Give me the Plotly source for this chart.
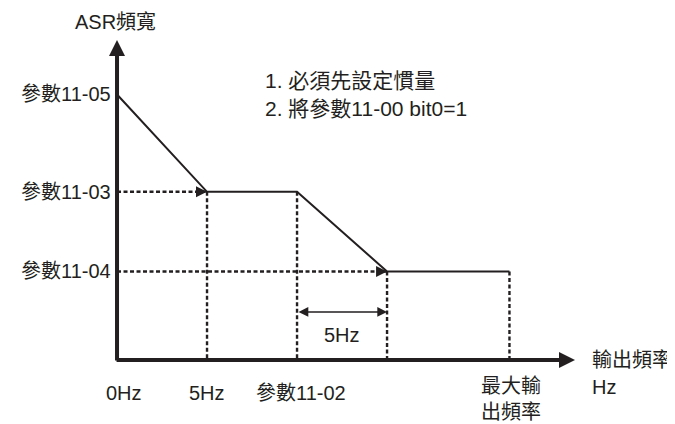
import plotly.graph_objects as go

# ASR bandwidth vs output frequency (schematic)
freq_vals = [0, 5, 10, 21.8]
freq_labels = ["0Hz", "5Hz", "參數11-02", "最大輸<br>出頻率"]
asr_vals = [3.0, 1.9, 1.0]
asr_labels = ["參數11-05", "參數11-03", "參數11-04"]
curve_x = [0, 5, 10, 15, 21.8]
curve_y = [3.0, 1.9, 1.9, 1.0, 1.0]
notes = ["1. 必須先設定慣量", "2. 將參數11-00 bit0=1"]

INK = "#231f20"
FONT = dict(family="Liberation Sans, Noto Sans CJK TC", size=20, color=INK)
DASH = dict(color=INK, width=2.4, dash="4px,2.5px")

fig = go.Figure()

# dashed guides
fig.add_trace(go.Scatter(x=[0, curve_x[1]], y=[curve_y[1]] * 2, mode="lines", line=DASH))
fig.add_trace(go.Scatter(x=[0, curve_x[3]], y=[curve_y[3]] * 2, mode="lines", line=DASH))
for i in range(1, 5):
    fig.add_trace(go.Scatter(x=[curve_x[i]] * 2, y=[curve_y[i], 0], mode="lines", line=DASH))

# main curve
fig.add_trace(go.Scatter(x=curve_x, y=curve_y, mode="lines", line=dict(color=INK, width=2)))

ann = []
# axes with arrows
ann.append(dict(x=0, y=3.616, ax=0, ay=-0.023, axref="x", ayref="y", text="",
                showarrow=True, arrowhead=2, arrowwidth=4, arrowsize=0.8, arrowcolor=INK))
ann.append(dict(x=25.44, y=0, ax=-0.11, ay=0, axref="x", ayref="y", text="",
                showarrow=True, arrowhead=2, arrowwidth=4, arrowsize=0.8, arrowcolor=INK))
# arrowheads on dashed guides
for i in (1, 3):
    ann.append(dict(x=curve_x[i], y=curve_y[i], ax=-11, ay=0, text="", showarrow=True,
                    arrowhead=2, arrowwidth=1, arrowsize=2.2, arrowcolor=INK))
# 5Hz span
ann.append(dict(x=curve_x[3], y=0.542, ax=curve_x[2], ay=0.542, axref="x", ayref="y", text="",
                showarrow=True, arrowside="end+start", arrowhead=2, startarrowhead=2,
                arrowwidth=1.5, arrowsize=1.3, startarrowsize=1.3, arrowcolor=INK))
ann.append(dict(x=(curve_x[2] + curve_x[3]) / 2, y=0.28, text="5Hz", showarrow=False, font=FONT))

# y labels
for v, t in zip(asr_vals, asr_labels):
    ann.append(dict(x=0, y=v, text=t, showarrow=False, xanchor="right", xshift=-4, font=FONT))
# x labels
xshifts = [7, 0, 4, 2]
yshifts = [-33, -33, -33, -39]
for v, t, xs, ys in zip(freq_vals, freq_labels, xshifts, yshifts):
    ann.append(dict(x=v, y=0, text=t, showarrow=False, xshift=xs, yshift=ys, font=FONT))

ann.append(dict(x=0, y=3.82, text="ASR頻寬", showarrow=False, xshift=-2, font=FONT))
ann.append(dict(x=26.28, y=0.0, text="輸出頻率", showarrow=False, xanchor="left", font=FONT))
ann.append(dict(x=26.28, y=-0.3, text="Hz", showarrow=False, xanchor="left", font=FONT))
for t, y in zip(notes, [3.16, 2.847]):
    ann.append(dict(x=8.1, y=y, text=t, showarrow=False, xanchor="left",
                    font=dict(FONT, size=21)))

# ranges offset by the page's 8px body margin
fig.update_layout(
    width=675, height=424,
    margin=dict(l=0, r=0, t=0, b=0),
    paper_bgcolor="white", plot_bgcolor="white",
    showlegend=False,
    xaxis=dict(range=[-6.056, 31.44], visible=False),
    yaxis=dict(range=[-0.814, 3.977], visible=False),
    annotations=ann,
)

fig.write_html("out.html")
